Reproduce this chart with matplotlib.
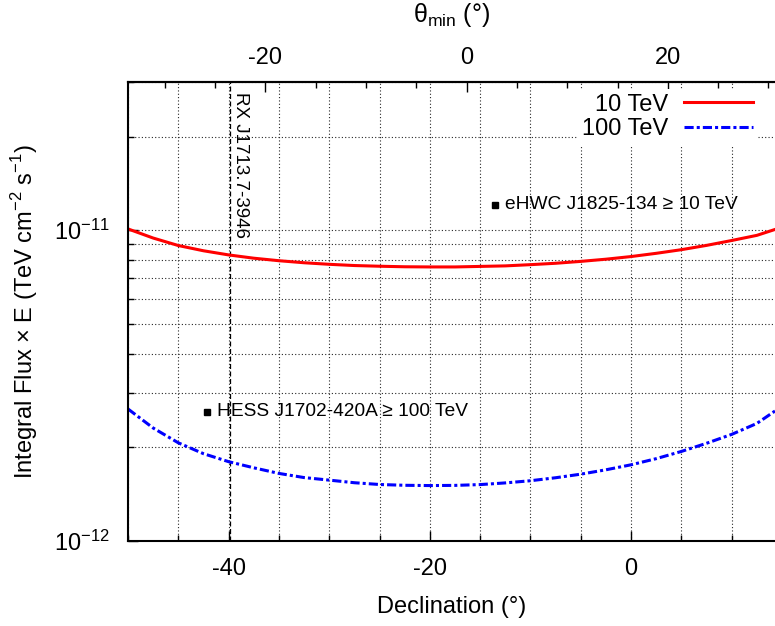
import numpy as np
import matplotlib.pyplot as plt
from matplotlib.ticker import MultipleLocator, FixedLocator, LogLocator, NullFormatter

plt.rcParams['font.family'] = ['Liberation Sans', 'DejaVu Sans']
plt.rcParams['axes.unicode_minus'] = False

# declination (deg) and integral flux x E (TeV cm^-2 s^-1)
dec = [-50, -47.5, -45, -42.5, -40, -37.5, -35, -32.5, -30, -27.5, -25, -22.5, -20, -17.5,
       -15, -12.5, -10, -7.5, -5, -2.5, 0, 2.5, 5, 7.5, 10, 12.5, 14.3]
flux_10tev = [1.010e-11, 9.44e-12, 8.93e-12, 8.59e-12, 8.33e-12, 8.13e-12, 7.98e-12, 7.86e-12,
              7.77e-12, 7.70e-12, 7.66e-12, 7.63e-12, 7.62e-12, 7.62e-12, 7.65e-12, 7.68e-12,
              7.75e-12, 7.83e-12, 7.94e-12, 8.07e-12, 8.23e-12, 8.43e-12, 8.66e-12, 8.94e-12,
              9.27e-12, 9.63e-12, 1.006e-11]
flux_100tev = [2.66e-12, 2.31e-12, 2.07e-12, 1.91e-12, 1.80e-12, 1.72e-12, 1.65e-12, 1.60e-12,
               1.57e-12, 1.54e-12, 1.52e-12, 1.511e-12, 1.508e-12, 1.510e-12, 1.519e-12, 1.538e-12,
               1.563e-12, 1.598e-12, 1.641e-12, 1.695e-12, 1.759e-12, 1.841e-12, 1.942e-12,
               2.063e-12, 2.204e-12, 2.39e-12, 2.62e-12]

# sources
rx_dec = -39.9
src_names = ['eHWC J1825-134 ≥ 10 TeV', 'HESS J1702-420A ≥ 100 TeV']
src_dec = [-13.5, -42.1]
src_flux = [1.21e-11, 2.61e-12]

theta_offset = 16.35  # theta_min = dec + offset

fig = plt.figure(figsize=(7.75, 6.26), dpi=100)
ax = fig.add_axes([128 / 775, 1 - 541 / 626, 1 - 128 / 775, (541 - 82) / 626])

ax.set_yscale('log')
ax.set_xlim(-50, 14.3)
ax.set_ylim(1e-12, 3e-11)

ax.grid(True, which='both', ls=(0, (1, 2)), color='0.15', lw=0.8)
ax.set_axisbelow(True)

ax.axvline(rx_dec, color='black', ls=(0, (4, 2)), lw=0.9)

ax.plot(dec, flux_10tev, color='red', lw=2.2, label='10 TeV')
ax.plot(dec, flux_100tev, color='blue', lw=2.2, ls=(0, (3, 1, 1, 1)), label='100 TeV')

ax.plot(src_dec, src_flux, 's', color='black', ms=5, ls='none')
for name, x, y in zip(src_names, src_dec, src_flux):
    ax.annotate(name, (x, y), xytext=(7, 0), textcoords='offset points',
                va='center', ha='left', fontsize=13.8)

ax.text(-38.85, 2.78e-11, 'RX J1713.7-3946', rotation=-90, ha='center', va='top', fontsize=13.5)

ax.xaxis.set_major_locator(FixedLocator([-40, -20, 0]))
ax.xaxis.set_minor_locator(MultipleLocator(5))
ax.yaxis.set_major_locator(LogLocator(base=10))
ax.yaxis.set_minor_locator(LogLocator(base=10, subs=np.arange(2, 10)))
ax.yaxis.set_minor_formatter(NullFormatter())

ax.tick_params(which='both', direction='in', labelsize=17, width=1)
ax.tick_params(which='major', length=7)
ax.tick_params(which='minor', length=4)
ax.tick_params(axis='x', pad=12)
ax.tick_params(axis='y', pad=13)
ax.spines['right'].set_visible(False)
for s in ['left', 'bottom', 'top']:
    ax.spines[s].set_linewidth(1.5)

ax.set_xlabel('Declination (°)', fontsize=17, labelpad=12)
ax.set_ylabel('Integral Flux × E (TeV cm$^{\\mathdefault{-2}}$ s$^{\\mathdefault{-1}}$)', fontsize=17, labelpad=10)

secax = ax.secondary_xaxis('top', functions=(lambda d: d + theta_offset, lambda t: t - theta_offset))
secax.xaxis.set_major_locator(FixedLocator([-20, 0, 20]))
secax.xaxis.set_minor_locator(MultipleLocator(5))
secax.tick_params(which='both', direction='in', labelsize=17, width=1, pad=9)
secax.tick_params(which='major', length=7)
secax.tick_params(which='minor', length=4)
secax.spines['top'].set_linewidth(1.5)
secax.set_xlabel('θ$_{\\mathdefault{min}}$ (°)', fontsize=18, labelpad=18)

leg = ax.legend(loc='upper right', bbox_to_anchor=(0.973, 0.985), fontsize=17, markerfirst=False,
                frameon=True, fancybox=False, edgecolor='none', facecolor='white', framealpha=1,
                handlelength=2.9, handletextpad=0.7, labelspacing=0.12, borderpad=0.2, borderaxespad=0)

fig.savefig('out.png', dpi=100)
